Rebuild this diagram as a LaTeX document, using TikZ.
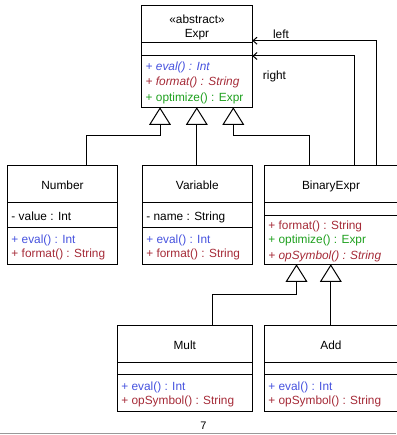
\documentclass[tikz,border=0pt]{standalone}
\usepackage{fontspec}
\setmainfont{Liberation Sans}
\usetikzlibrary{arrows.meta}
\definecolor{mblue}{RGB}{70,82,222}
\definecolor{mred}{RGB}{165,42,55}
\definecolor{mgreen}{RGB}{30,160,30}
\begin{document}
\begin{tikzpicture}[x=1bp,y=-1bp,
  comp/.style={draw=black,line width=1bp,inner sep=0pt,outer sep=0pt,rectangle,anchor=north west},
  txt/.style={inner sep=0pt,anchor=base west,font=\fontsize{11.9}{14}\selectfont},
  ctxt/.style={inner sep=0pt,anchor=base,font=\fontsize{11.9}{14}\selectfont},
  gen/.style={draw=black,line width=1bp,-{Triangle[open,width=21.7bp,length=17.5bp]}},
  assoc/.style={draw=black,line width=1bp,-{Straight Barb[length=4bp,width=7bp]}},
]
\useasboundingbox (0,0) rectangle (396,435);

% ---- Expr ----
\node[comp,minimum width=110.5bp,minimum height=36.7bp] (exprname) at (141.8,6) {};
\node[comp,minimum width=110.5bp,minimum height=13.3bp] (exprattr) at (141.8,42.7) {};
\node[comp,minimum width=110.5bp,minimum height=51.3bp] (exprmeth) at (141.8,56) {};
\node[ctxt] (exprst) at (197,23.2) {«abstract»};
\node[ctxt] (exprt) at (197,37.2) {Expr};
\node[txt,text=mblue] (exprm1) at (145.5,70.9) {\itshape + eval() : Int};
\node[txt,text=mred] (exprm2) at (145.5,85.9) {\itshape + format() : String};
\node[txt,text=mgreen] (exprm3) at (145.5,101.5) {+ optimize() : Expr};

% ---- Number ----
\node[comp,minimum width=110.3bp,minimum height=37bp] (numname) at (7.4,165.7) {};
\node[comp,minimum width=110.3bp,minimum height=24.6bp] (numattr) at (7.4,202.7) {};
\node[comp,minimum width=110.3bp,minimum height=37bp] (nummeth) at (7.4,227.3) {};
\node[ctxt] (numt) at (62.5,189.9) {Number};
\node[txt] (numa1) at (11.3,220.2) {- value : Int};
\node[txt,text=mblue] (numm1) at (11.3,243.2) {+ eval() : Int};
\node[txt,text=mred] (numm2) at (11.3,257.9) {+ format() : String};

% ---- Variable ----
\node[comp,minimum width=110bp,minimum height=37bp] (varname) at (142.3,165.7) {};
\node[comp,minimum width=110bp,minimum height=24.6bp] (varattr) at (142.3,202.7) {};
\node[comp,minimum width=110bp,minimum height=37bp] (varmeth) at (142.3,227.3) {};
\node[ctxt] (vart) at (197.3,189.9) {Variable};
\node[txt] (vara1) at (146.2,220.2) {- name : String};
\node[txt,text=mblue] (varm1) at (146.2,243.2) {+ eval() : Int};
\node[txt,text=mred] (varm2) at (146.2,257.9) {+ format() : String};

% ---- BinaryExpr ----
\node[comp,minimum width=133.5bp,minimum height=37bp] (binname) at (264.3,165.7) {};
\node[comp,minimum width=133.5bp,minimum height=12.3bp] (binattr) at (264.3,202.7) {};
\node[comp,minimum width=133.5bp,minimum height=49.3bp] (binmeth) at (264.3,215) {};
\node[ctxt] (bint) at (331,189.9) {BinaryExpr};
\node[txt,text=mred] (binm1) at (268.2,229.5) {+ format() : String};
\node[txt,text=mgreen] (binm2) at (268.2,243.9) {+ optimize() : Expr};
\node[txt,text=mred] (binm3) at (268.2,259.2) {\itshape + opSymbol() : String};

% ---- Mult ----
\node[comp,minimum width=135bp,minimum height=37.7bp] (multname) at (117.3,325) {};
\node[comp,minimum width=135bp,minimum height=11.3bp] (multattr) at (117.3,362.7) {};
\node[comp,minimum width=135bp,minimum height=37bp] (multmeth) at (117.3,374) {};
\node[ctxt] (multt) at (184.8,349.2) {Mult};
\node[txt,text=mblue] (multm1) at (121.2,390.2) {+ eval() : Int};
\node[txt,text=mred] (multm2) at (121.2,404.9) {+ opSymbol() : String};

% ---- Add ----
\node[comp,minimum width=133.5bp,minimum height=37.7bp] (addname) at (264.3,325) {};
\node[comp,minimum width=133.5bp,minimum height=11.3bp] (addattr) at (264.3,362.7) {};
\node[comp,minimum width=133.5bp,minimum height=37bp] (addmeth) at (264.3,374) {};
\node[ctxt] (addt) at (331,349.2) {Add};
\node[txt,text=mblue] (addm1) at (268.2,390.2) {+ eval() : Int};
\node[txt,text=mred] (addm2) at (268.2,404.9) {+ opSymbol() : String};

% ---- generalizations to Expr ----
\coordinate (g1a) at (86.7,136);
\coordinate (g1b) at (160,136);
\draw[gen] (g1a |- numname.north) -- (g1a) -- (g1b) -- (g1b |- exprmeth.south);
\coordinate (g2) at (196.8,136);
\draw[gen] (g2 |- varname.north) -- (g2 |- exprmeth.south);
\coordinate (g3a) at (309,136);
\coordinate (g3b) at (233.3,136);
\draw[gen] (g3a |- binname.north) -- (g3a) -- (g3b) -- (g3b |- exprmeth.south);

% ---- generalizations to BinaryExpr ----
\coordinate (g4a) at (212.7,294.3);
\coordinate (g4b) at (296.5,294.3);
\draw[gen] (g4a |- multname.north) -- (g4a) -- (g4b) -- (g4b |- binmeth.south);
\coordinate (g5) at (330.8,294.3);
\draw[gen] (g5 |- addname.north) -- (g5 |- binmeth.south);

% ---- associations left / right ----
\coordinate (la) at (376.3,40.7);
\draw[assoc] (la |- binname.north) -- (la) -- (la -| exprname.east);
\node[ctxt] (leftl) at (281,38.2) {left};
\coordinate (ra) at (354.3,56);
\draw[assoc] (ra |- binname.north) -- (ra) -- (ra -| exprname.east);
\node[ctxt] (rightl) at (274.5,79.8) {right};

% ---- page footer ----
\node[ctxt,font=\fontsize{11}{13}\selectfont] (pnum) at (203.3,429.8) {7};
\coordinate (fl) at (0,433.7);
\coordinate (fr) at (396,433.7);
\draw[draw=black!40,line width=1.2bp] (fl) -- (fr);
\end{tikzpicture}
\end{document}
